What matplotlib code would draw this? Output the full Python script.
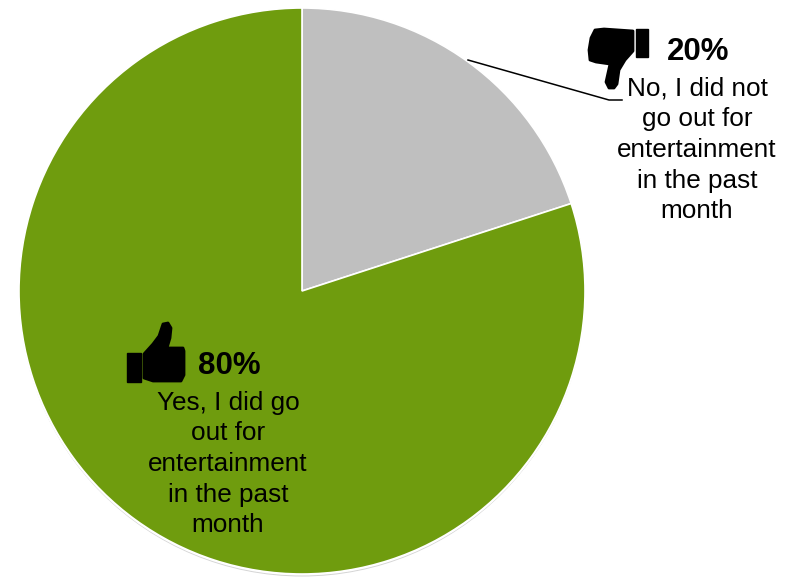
import matplotlib.pyplot as plt
from matplotlib.patches import Circle, Polygon, Rectangle

plt.rcParams['font.family'] = ['Liberation Sans', 'DejaVu Sans']

labels = ['No, I did not\ngo out for\nentertainment\nin the past\nmonth',
          'Yes, I did go\nout for\nentertainment\nin the past\nmonth']
shares = [20, 80]
colors = ['#BFBFBF', '#6F9C0E']

W, H = 787, 578
fig = plt.figure(figsize=(W / 100, H / 100), dpi=100)
ax = fig.add_axes([0, 0, 1, 1])


def py(y):
    # pixel rows count from the top
    return H - y


# soft rim under the lower edge of the pie
ax.add_patch(Circle((302, py(293.5)), 283, color='#D4D4D4', lw=0, zorder=0))
ax.add_patch(Circle((302, py(291.5)), 284, color='white', lw=0, zorder=0.5))

ax.pie(shares, colors=colors, startangle=90, counterclock=False,
       center=(302, py(291)), radius=283, frame=True,
       wedgeprops=dict(edgecolor='white', linewidth=1.2, zorder=1))
ax.set_xlim(0, W)
ax.set_ylim(0, H)
ax.set_aspect('equal')
ax.axis('off')

# leader line from the grey slice to its label
ax.plot([468, 609, 622], [py(60), py(100), py(100)], color='black', lw=1.1, zorder=4)

# thumbs down icon
down_hand = [(595, 30), (604, 29), (633, 31), (633, 51), (625, 60), (619, 70), (617, 84),
             (614, 88), (609, 88), (606, 82), (610, 64), (596, 62), (590, 60), (589, 50), (591, 38)]
ax.add_patch(Polygon([(x, py(y)) for x, y in down_hand], fc='black', ec='black', lw=2,
                     joinstyle='round', zorder=5))
ax.add_patch(Rectangle((636, py(57)), 11.5, 28, color='black', zorder=5))

# thumbs up icon
up_hand = [(144, 354), (153, 344), (159, 336), (163, 324), (168, 323), (171, 328), (170, 338),
           (167, 348), (183, 348), (184, 351), (184, 375), (181, 381), (153, 381), (144, 378)]
ax.add_patch(Polygon([(x, py(y)) for x, y in up_hand], fc='black', ec='black', lw=2,
                     joinstyle='round', zorder=5))
ax.add_patch(Rectangle((127, py(382)), 14, 29, color='black', zorder=5))

ax.text(698, py(52), f'{shares[0]}%', ha='center', va='center', fontsize=22.5,
        fontweight='bold', color='black', zorder=6)
ax.text(697, py(150), labels[0], ha='center', va='center', fontsize=18.8,
        linespacing=1.35, color='black', zorder=6)
ax.text(229, py(366), f'{shares[1]}%', ha='center', va='center', fontsize=22.5,
        fontweight='bold', color='black', zorder=6)
ax.text(228, py(464), labels[1], ha='center', va='center', fontsize=18.8,
        linespacing=1.35, color='black', zorder=6)

fig.savefig('out.png', dpi=100)
